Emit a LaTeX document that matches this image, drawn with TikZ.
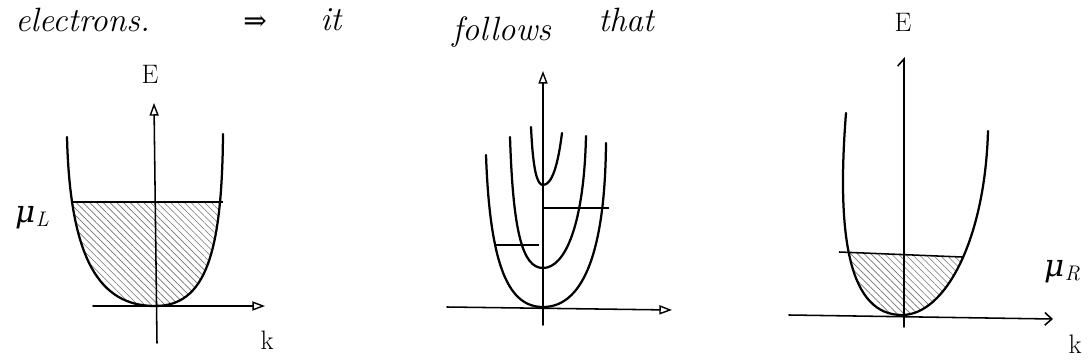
\documentclass[tikz,border=0pt]{standalone}
\usepackage{fontspec}
\newfontfamily\greekfont{DejaVu Serif}
\usetikzlibrary{arrows.meta,patterns.meta}
\tikzset{
  curve/.style={line width=1.6pt, line cap=round, line join=round},
  axisline/.style={line width=1.1pt, line cap=round},
  openhead/.style={-{Triangle[open,length=9pt,width=6.5pt,line width=1pt]}},
  barbhead/.style={-{Straight Barb[length=5pt,width=9pt,line width=1.1pt]}},
  halfhead/.style={-{Straight Barb[left,length=5pt,width=9pt,line width=1.1pt]}},
  levelline/.style={line width=1.1pt},
  hatch/.style={pattern={Lines[angle=-45,distance=3.4pt,line width=0.45pt]}, pattern color=black!55},
  word/.style={font=\fontsize{24}{28}\selectfont\itshape, inner sep=0pt, anchor=base west},
  axlbl/.style={font=\fontsize{19}{22}\selectfont, inner sep=0pt},
  mulbl/.style={font=\fontsize{22}{26}\selectfont, inner sep=0pt}
}
\newcommand{\mulabel}[1]{{\greekfont\itshape μ}\kern0.5pt\raisebox{-0.25ex}{\fontsize{15}{17}\selectfont\itshape #1}}
\begin{document}
\begin{tikzpicture}[x=0.25mm,y=-0.25mm]
\useasboundingbox (0,0) rectangle (1088,363);

% ---- top text ----
\node[word] (w1) at (15,31) {electrons.};
\node[word] (w2) at (243,30) {{\greekfont\upshape\fontsize{20}{24}\selectfont ⇒}};
\node[word] (w3) at (320,30) {it};
\node[word] (w4) at (452,40) {follows};
\node[word] (w5) at (598,31) {that};

% ---- left diagram ----
\coordinate (Lo) at (155,306);
\coordinate (Lxl) at (93,306);
\coordinate (Lxr) at (265,306);
\coordinate (Lyb) at (157,343);
\coordinate (Lyt) at (154,103);
\coordinate (Ltl) at (67,137);
\coordinate (Ltr) at (223,134);
\coordinate (Lml) at (72,202);
\coordinate (Lmr) at (223,202);
\begin{scope}
  \clip (0,202) rectangle (400,363);
  \fill[hatch] (Ltl) .. controls (70,260) and (100,306) .. (Lo)
     .. controls (205,306) and (222,255) .. (Ltr) -- cycle;
\end{scope}
\draw[curve] (Ltl) .. controls (70,260) and (100,306) .. (Lo)
     .. controls (205,306) and (222,255) .. (Ltr);
\draw[levelline] (Lml) -- (Lmr);
\draw[axisline,openhead] (Lxl) -- (Lxr);
\draw[axisline,openhead] (Lyb) -- (Lyt);
\node[axlbl] (LE) at (150,74) {E};
\node[axlbl] (Lk) at (267,340) {k};
\node[mulbl] (LmuL) at (32,218) {\mulabel{L}};

% ---- middle diagram ----
\coordinate (Mo) at (543,307);
\coordinate (Mxl) at (447,307);
\coordinate (Mxr) at (672,310);
\coordinate (Myb) at (543,325);
\coordinate (Myt) at (543,71);
\draw[curve] (486,155) .. controls (490,270) and (510,307) .. (Mo)
     .. controls (580,307) and (605,260) .. (606,143);
\draw[curve] (510,137) .. controls (513,230) and (522,268) .. (543,268)
     .. controls (565,268) and (584,225) .. (586,136);
\draw[curve] (531,127) .. controls (533,170) and (537,185) .. (543,185)
     .. controls (552,185) and (558,165) .. (562,133);
\coordinate (Mal) at (496,245);
\coordinate (Mar) at (539,245);
\coordinate (Mbl) at (544,208);
\coordinate (Mbr) at (609,208);
\draw[levelline] (Mal) -- (Mar);
\draw[levelline] (Mbl) -- (Mbr);
\draw[axisline,openhead] (Mxl) -- (Mxr);
\draw[axisline,openhead] (Myb) -- (Myt);

% ---- right diagram ----
\coordinate (Ro) at (902,315);
\coordinate (Rxl) at (789,315);
\coordinate (Rxr) at (1053,319);
\coordinate (Ryb) at (904,327);
\coordinate (Ryt) at (904,57);
\coordinate (Rtl) at (846,113);
\coordinate (Rtr) at (988,131);
\coordinate (Rml) at (839,252);
\coordinate (Rmr) at (962,257);
\begin{scope}
  \clip (800,250.4) -- (1000,258.5) -- (1000,363) -- (800,363) -- cycle;
  \fill[hatch] (Rtl) .. controls (836,240) and (850,315) .. (Ro)
     .. controls (945,315) and (985,240) .. (Rtr) -- cycle;
\end{scope}
\draw[curve] (Rtl) .. controls (836,240) and (850,315) .. (Ro)
     .. controls (945,315) and (985,240) .. (Rtr);
\draw[levelline] (Rml) -- (Rmr);
\draw[axisline,barbhead] (Rxl) -- (Rxr);
\draw[axisline,halfhead] (Ryb) -- (Ryt);
\node[axlbl] (RE) at (903,22) {E};
\node[axlbl] (Rk) at (1075,344) {k};
\node[mulbl] (RmuR) at (1062,272) {\mulabel{R}};
\end{tikzpicture}
\end{document}
